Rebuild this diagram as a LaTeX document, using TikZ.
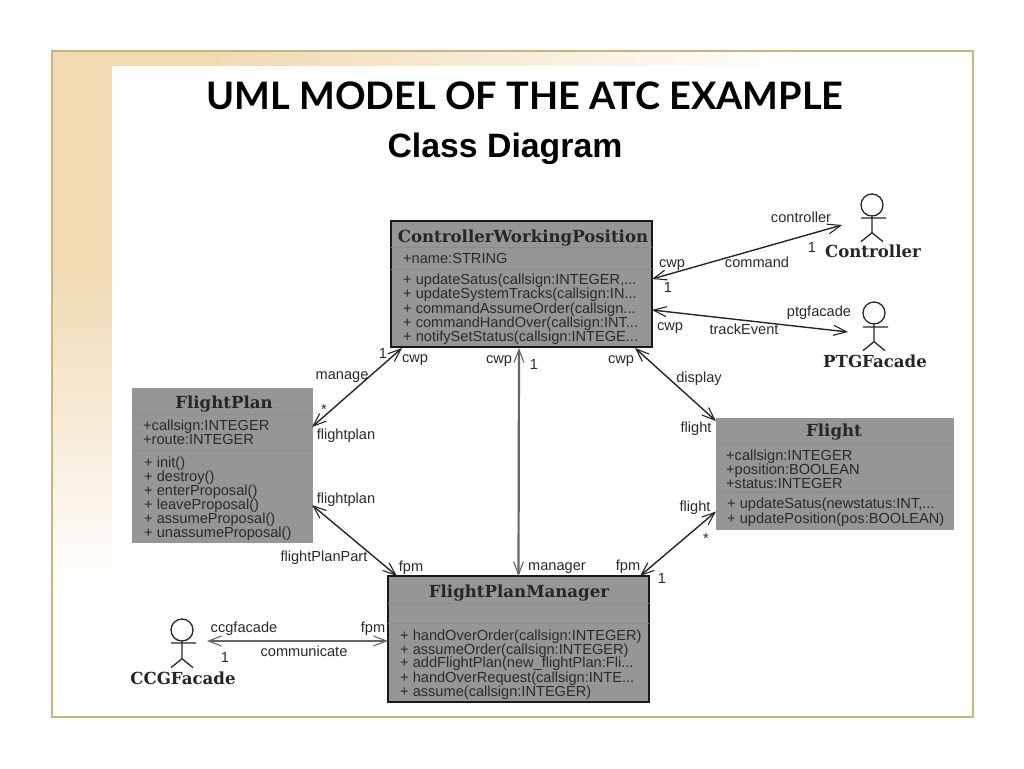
\documentclass[tikz,border=0pt]{standalone}
\usepackage{fontspec}
\setsansfont{Liberation Sans}
\newfontfamily\headfont{Lato}
\newfontfamily\classfont{DejaVu Serif}
\usetikzlibrary{arrows.meta}
\definecolor{framec}{HTML}{C9B57F}
\definecolor{beige}{HTML}{F1D9B1}
\definecolor{boxc}{HTML}{969696}
\definecolor{sepc}{HTML}{8C8C8C}
\definecolor{inkc}{HTML}{2A2A2A}
\tikzset{
  x=1pt,y=-1pt,
  classbox/.style={draw=#1,fill=boxc,rectangle,inner sep=0pt,outer sep=0pt,anchor=north west},
  sepline/.style={draw=sepc,line width=0.8pt},
  classname/.style={font=\classfont\bfseries\fontsize{16.6}{18}\selectfont,text=black!85,inner sep=0pt,text height=12pt,text depth=0pt},
  member/.style={font=\sffamily\fontsize{14.6}{16}\selectfont,text=inkc,inner sep=0pt,anchor=west,text height=10.5pt,text depth=0pt},
  lbl/.style={font=\sffamily\fontsize{14.6}{16}\selectfont,text=inkc,inner sep=0pt,text height=9pt,text depth=0pt},
  assoc/.style={draw=black!85,line width=1.4pt,{Straight Barb[length=13pt,width=10pt,line width=1.1pt]}-{Straight Barb[length=13pt,width=10pt,line width=1.1pt]}},
  assocthick/.style={assoc,draw=black!60,line width=2.2pt},
  actorline/.style={draw=black!85,line width=1.3pt},
}
\begin{document}
\begin{tikzpicture}
\useasboundingbox (0,0) rectangle (1024,768);
\fill[white] (0,0) rectangle (1024,768);
% slide background
\shade[left color=beige,right color=white] (200,53) rectangle (800,70);
\fill[beige] (52,51) rectangle (201,70);
\fill[beige] (52,51) rectangle (112,261);
\shade[top color=beige,bottom color=white] (53,260) rectangle (112,590);
\fill[white] (112,66) rectangle (972,716);
\draw[framec,line width=2.6pt] (52,51) rectangle (973,717);
% headings
\node (title) at (525,96) {\headfont\bfseries\fontsize{37.9}{40}\selectfont UML MODEL OF THE ATC EXAMPLE};
\node (subtitle) at (505,149) {\sffamily\bfseries\fontsize{33.8}{36}\selectfont Class Diagram};
% classes
\node[classbox=black!90,line width=2.4pt,minimum width=261pt,minimum height=126pt] (cwp) at (391,221) {};
\draw[sepline] (391,247) -- (652,247) (391,269) -- (652,269);
\node[classname] (cwpn) at (523,236) {ControllerWorkingPosition};
\node[member] (c1) at (403,258) {+name:STRING};
\node[member] (c2) at (403,279.5) {+ updateSatus(callsign:INTEGER,...};
\node[member] (c3) at (403,293.5) {+ updateSystemTracks(callsign:IN...};
\node[member] (c4) at (403,307.8) {+ commandAssumeOrder(callsign...};
\node[member] (c5) at (403,322) {+ commandHandOver(callsign:INT...};
\node[member] (c6) at (403,336) {+ notifySetStatus(callsign:INTEGE...};

\node[classbox=boxc,line width=0.4pt,minimum width=180pt,minimum height=154pt] (fp) at (132,388) {};
\draw[sepline] (132,414) -- (312,414) (132,450) -- (312,450);
\node[classname] (fpn) at (224,402) {FlightPlan};
\node[member] (f1) at (143,425) {+callsign:INTEGER};
\node[member] (f2) at (143,439) {+route:INTEGER};
\node[member] (f3) at (144,462) {+ init()};
\node[member] (f4) at (144,476) {+ destroy()};
\node[member] (f5) at (144,490) {+ enterProposal()};
\node[member] (f6) at (144,504) {+ leaveProposal()};
\node[member] (f7) at (144,518) {+ assumeProposal()};
\node[member] (f8) at (144,532) {+ unassumeProposal()};

\node[classbox=boxc,line width=0.4pt,minimum width=237pt,minimum height=111pt] (fl) at (716,418) {};
\draw[sepline] (716,443) -- (953,443) (716,492) -- (953,492);
\node[classname] (fln) at (834,430) {Flight};
\node[member] (l1) at (726,455) {+callsign:INTEGER};
\node[member] (l2) at (726,469) {+position:BOOLEAN};
\node[member] (l3) at (726,483) {+status:INTEGER};
\node[member] (l4) at (727,503.5) {+ updateSatus(newstatus:INT,...};
\node[member] (l5) at (727,518) {+ updatePosition(pos:BOOLEAN)};

\node[classbox=black!90,line width=2.4pt,minimum width=261pt,minimum height=126pt] (fpm) at (388,576) {};
\draw[sepline] (388,603) -- (649,603) (388,623) -- (649,623);
\node[classname] (fpmn) at (519,591) {FlightPlanManager};
\node[member] (m1) at (400,635) {+ handOverOrder(callsign:INTEGER)};
\node[member] (m2) at (400,649) {+ assumeOrder(callsign:INTEGER)};
\node[member] (m3) at (400,662.5) {+ addFlightPlan(new\_flightPlan:Fli...};
\node[member] (m4) at (400,677) {+ handOverRequest(callsign:INTE...};
\node[member] (m5) at (400,691) {+ assume(callsign:INTEGER)};
% actors
\node[circle,actorline,minimum size=22pt,inner sep=0pt] (ctrl) at (872,205) {};
\draw[actorline] (ctrl.south) -- ++(0,16) -- ++(-11,9) ++(11,-9) -- ++(11,9) (861,218) -- (886,218);
\node[classname] (ctrln) at (873,251) {Controller};
\node[circle,actorline,minimum size=22pt,inner sep=0pt] (ptg) at (874,313) {};
\draw[actorline] (ptg.south) -- ++(0,17) -- ++(-11,9) ++(11,-9) -- ++(11,9) (863,327) -- (888,327);
\node[classname] (ptgn) at (875,361) {PTGFacade};
\node[circle,actorline,minimum size=22pt,inner sep=0pt] (ccg) at (182,630) {};
\draw[actorline] (ccg.south) -- ++(0,17) -- ++(-11,9) ++(11,-9) -- ++(11,9) (171,643) -- (196,643);
\node[classname] (ccgn) at (183,678) {CCGFacade};
% connector anchors at the actors
\coordinate (ctrlend) at (842,225);
\coordinate (ptgend) at (848,332);
\coordinate (ccgend) at (207,641);
% associations
\draw[assoc] ([yshift=5pt]cwp.east) -- (ctrlend);
\draw[assoc] ([yshift=-26pt]cwp.east) -- (ptgend);
\draw[assoc] ([xshift=11pt,yshift=-1pt]cwp.south west) -- ([yshift=38pt]fp.east);
\draw[assoc] ([yshift=-40pt]fp.east) -- ([xshift=9pt]fpm.north west);
\draw[assocthick] ([xshift=-2.5pt,yshift=-1pt]cwp.south) -- ([xshift=0pt]fpm.north);
\draw[assoc] ([xshift=-17pt,yshift=-1pt]cwp.south east) -- ([yshift=-3pt]fl.north west);
\draw[assoc] ([yshift=-38pt]fl.west) -- ([xshift=-9pt]fpm.north east);
\draw[assocthick] (ccgend) -- ([yshift=-2pt]fpm.west);
% labels
\node[lbl] (a1) at (801,218) {controller};
\node[lbl] (a2) at (812,248) {1};
\node[lbl] (a3) at (757,263) {command};
\node[lbl] (a4) at (672,263) {cwp};
\node[lbl] (a5) at (668,288) {1};
\node[lbl] (a6) at (819,312) {ptgfacade};
\node[lbl] (a7) at (744,330) {trackEvent};
\node[lbl] (a8) at (670,326) {cwp};
\node[lbl] (a9) at (342,375) {manage};
\node[lbl] (a10) at (383,354) {1};
\node[lbl] (a11) at (415,358) {cwp};
\node[lbl] (a12) at (324,410) {*};
\node[lbl] (a13) at (346,435) {flightplan};
\node[lbl] (a14) at (346,499) {flightplan};
\node[lbl] (a15) at (324,557) {flightPlanPart};
\node[lbl] (a16) at (411,567) {fpm};
\node[lbl] (a17) at (499,359) {cwp};
\node[lbl] (a18) at (534,365) {1};
\node[lbl] (a19) at (621,359) {cwp};
\node[lbl] (a20) at (699,378) {display};
\node[lbl] (a21) at (696,428) {flight};
\node[lbl] (a22) at (695,507) {flight};
\node[lbl] (a23) at (706,539) {*};
\node[lbl] (a24) at (628,566) {fpm};
\node[lbl] (a25) at (662,579) {1};
\node[lbl] (a26) at (557,566) {manager};
\node[lbl] (a27) at (244,628) {ccgfacade};
\node[lbl] (a28) at (225,658) {1};
\node[lbl] (a29) at (304,652) {communicate};
\node[lbl] (a30) at (373,628) {fpm};
\end{tikzpicture}
\end{document}
